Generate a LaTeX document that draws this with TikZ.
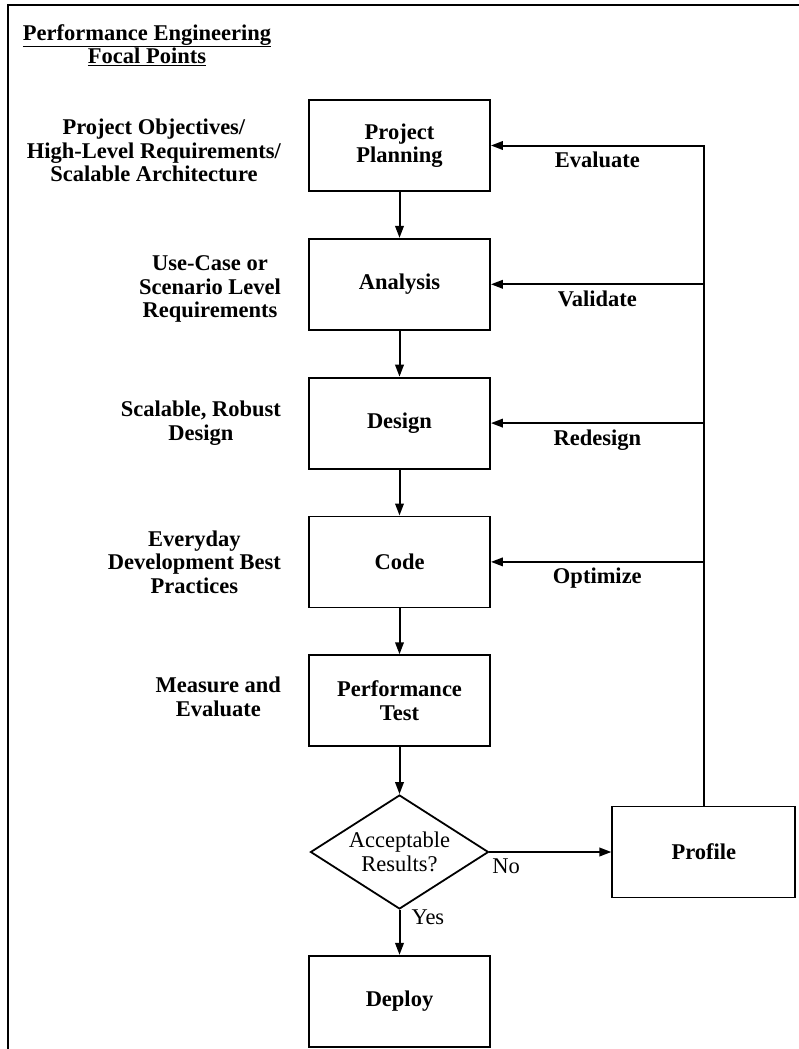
\documentclass[tikz,border=0pt]{standalone}
\usepackage{fontspec}
\setmainfont{Liberation Serif}
\usetikzlibrary{arrows.meta, positioning, shapes.geometric}
\newcommand{\chartfont}{\fontsize{22.5}{23.5}\selectfont}

\begin{document}
\begin{tikzpicture}[
    x=1pt, y=-1pt,
    stepbox/.style={draw, minimum width=181pt, minimum height=91pt, align=center, line width=1.8pt, font=\chartfont\bfseries},
    sidelabel/.style={align=center, inner sep=0pt, font=\chartfont\bfseries},
    decision/.style={draw, diamond, aspect=1.56, minimum width=178pt, minimum height=114pt, inner sep=0pt, align=center, line width=1.8pt, font=\chartfont},
    flow/.style={-{Triangle[length=12pt, width=8.5pt]}, line width=2pt},
    looplabel/.style={below, yshift=-2pt, font=\chartfont\bfseries},
    answer/.style={inner sep=2pt, anchor=north west, font=\chartfont},
]
  \useasboundingbox (0,0) rectangle (799,1049);
  \draw[line width=1.8pt] (8,1049) -- (8,5) -- (799,5);

  \node[sidelabel] (title) at (147,45) {\underline{Performance Engineering}\\\underline{Focal Points}};

  \node[stepbox] (plan) at (399.5,145.5) {Project\\Planning};
  \node[stepbox, below=46pt of plan] (anal) {Analysis};
  \node[stepbox, below=46pt of anal] (design) {Design};
  \node[stepbox, below=46pt of design] (code) {Code};
  \node[stepbox, below=46pt of code] (ptest) {Performance\\Test};
  \node[decision, below=47pt of ptest] (accept) {Acceptable\\Results?};
  \node[stepbox, below=45pt of accept] (deploy) {Deploy};
  \node[stepbox, minimum width=183pt, right=122pt of accept] (profile) {Profile};

  \node[sidelabel, left=27pt of plan, yshift=-5pt] (objectives) {Project Objectives/\\High-Level Requirements/\\Scalable Architecture};
  \node[sidelabel, left=27pt of anal, yshift=-5pt] (usecase) {Use-Case or\\Scenario Level\\Requirements};
  \node[sidelabel, left=27pt of design] (robust) {Scalable, Robust\\Design};
  \node[sidelabel, left=27pt of code] (everyday) {Everyday\\Development Best\\Practices};
  \node[sidelabel, left=27pt of ptest, yshift=4pt] (measure) {Measure and\\Evaluate};

  \draw[flow] (plan) -- (anal);
  \draw[flow] (anal) -- (design);
  \draw[flow] (design) -- (code);
  \draw[flow] (code) -- (ptest);
  \draw[flow] (ptest) -- (accept);
  \draw[flow] (accept) -- node[answer, pos=0, yshift=-4pt] {No} (profile);
  \draw[flow] (accept) -- node[answer, pos=0, xshift=9pt, yshift=3pt] {Yes} (deploy);

  \draw[flow] (profile.north) |- node[looplabel, pos=0.75] {Evaluate} (plan.east);
  \draw[flow] (profile.north |- anal.east) -- node[looplabel] {Validate} (anal.east);
  \draw[flow] (profile.north |- design.east) -- node[looplabel] {Redesign} (design.east);
  \draw[flow] (profile.north |- code.east) -- node[looplabel] {Optimize} (code.east);
\end{tikzpicture}
\end{document}
